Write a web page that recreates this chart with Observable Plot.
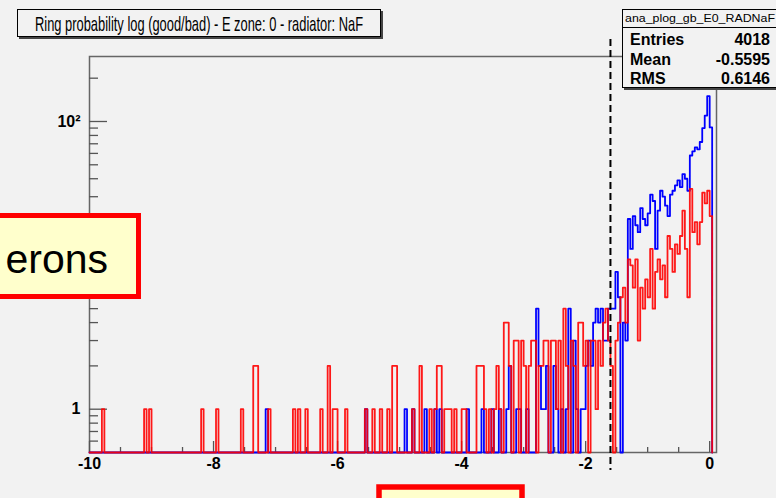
<!DOCTYPE html>
<html><head><meta charset="utf-8">
<script src="https://cdn.jsdelivr.net/npm/d3@7"></script>
<script src="https://cdn.jsdelivr.net/npm/@observablehq/plot@0.6"></script>
<style>
html,body{margin:0;padding:0;background:#f2f2f2;}
#wrap{position:relative;width:776px;height:498px;overflow:hidden;background:#f2f2f2;font-family:"Liberation Sans",Arial,sans-serif;}
#wrap svg{position:absolute;left:0;top:0;}
</style></head><body><div id="wrap"></div>
<script>
// ---- data ----
const binStart = -10;
const binWidth = 0.04;
const redCounts = [
  0,0,0,0,0,1,0,0,0,0,0,0,0,0,0,0,0,0,0,0,0,0,1,0,1,
  0,0,0,0,0,0,0,0,0,0,0,0,0,0,0,0,0,0,0,0,1,0,0,0,0,
  0,1,0,0,0,0,0,0,0,0,0,1,0,0,0,0,2,2,0,0,0,0,1,0,0,
  0,0,0,0,0,0,0,1,0,1,0,0,1,0,0,0,0,0,1,0,0,2,0,1,1,
  0,0,0,1,0,0,0,0,0,0,0,1,0,0,1,0,0,1,0,0,1,0,2,2,0,
  0,0,0,0,0,1,0,0,2,0,0,0,1,0,1,2,2,0,1,1,1,0,1,0,0,
  1,1,0,0,0,0,2,2,2,1,0,1,0,1,2,1,0,4,4,2,0,3,3,0,3,
  2,0,2,3,3,0,2,2,3,3,0,3,3,1,3,0,5,2,0,3,2,0,4,4,2,
  3,0,3,3,1,3,2,4,5,3,2,0,3,4,6,7,4,11,10,7,11,3,7,5,8,
  6,13,5,9,11,8,10,6,16,13,9,14,12,16,24,13,6,34,17,20,14,20,32,27,33,
  22
];
const blueCounts = [
  0,0,0,0,0,0,0,0,0,0,0,0,0,0,0,0,0,0,0,0,0,0,0,0,0,
  0,0,0,0,0,0,0,0,0,0,0,0,0,0,0,0,0,0,0,0,0,0,0,0,0,
  0,0,0,0,0,0,0,0,0,0,0,0,0,0,0,0,0,0,0,0,0,1,0,0,0,
  0,0,0,0,0,0,0,0,0,0,0,0,0,0,0,0,0,0,0,0,0,0,0,0,0,
  0,0,0,0,0,0,0,0,0,0,0,1,0,0,0,0,0,0,0,0,0,0,0,0,0,
  0,0,1,0,0,1,0,0,0,0,1,0,0,0,1,0,1,0,0,0,0,0,0,0,0,
  0,0,1,0,0,0,0,0,1,0,0,0,1,0,0,1,0,0,1,2,0,0,1,1,0,
  0,1,0,0,0,5,2,1,1,2,0,0,2,1,0,1,0,1,5,0,3,1,0,1,1,
  2,3,2,4,5,4,5,3,3,5,5,5,9,6,0,4,3,21,13,22,19,17,25,21,19,
  23,31,28,13,24,33,30,26,22,31,33,36,39,35,43,40,33,58,62,66,64,72,90,110,150,
  91
];
const xTickValues = [-10, -8, -6, -4, -2, 0];
const yTickValues = [1, 10, 100];
const yLabelValues = [1, 100];          // the "10" label is hidden behind the annotation box in the reference
const yLabelTexts = ["1", "10²"];
const cutValue = -1.6;
const titleText = "Ring probability log (good/bad) - E zone: 0 - radiator: NaF";
const statsName = "ana_plog_gb_E0_RADNaF";
const statsLabels = ["Entries", "Mean", "RMS"];
const statsValues = ["4018", "-0.5595", "0.6146"];
const sideBoxText = "erons";

// ---- derived ----
const yMin = 0.5, yMax = 283;
function stepPoints(counts) {
  const pts = [{x: binStart, y: yMin}];
  counts.forEach((c, i) => pts.push({x: binStart + i * binWidth, y: Math.max(c, yMin)}));
  const end = binStart + counts.length * binWidth;
  pts.push({x: end, y: Math.max(counts[counts.length - 1], yMin)});
  pts.push({x: end, y: yMin});
  return pts;
}
const bluePts = stepPoints(blueCounts);
const redPts = stepPoints(redCounts);
const xMinor = d3.range(-10, 0.001, 0.5).filter(v => !xTickValues.includes(Math.round(v * 10) / 10));
const yMinor = [0.6, 0.7, 0.8, 0.9];
for (const dec of [1, 10]) for (let k = 2; k <= 9; k++) yMinor.push(k * dec);
yMinor.push(200);

const W = 776, H = 498, mL = 89, mR = 60, mT = 56, mB = 46;
const pw = W - mL - mR, ph = H - mT - mB;
const tickCol = "#555";

const chart = Plot.plot({
  width: W, height: H,
  marginLeft: mL, marginRight: mR, marginTop: mT, marginBottom: mB,
  style: {background: "transparent", fontFamily: "Liberation Sans, Arial, sans-serif", fontSize: "16px", fontWeight: "bold", color: "#000"},
  x: {domain: [-10, 0.11], axis: null},
  y: {type: "log", domain: [yMin, yMax], axis: null},
  marks: [
    Plot.frame({stroke: "#666", strokeWidth: 1.5}),
    Plot.ruleY(yMinor, {y: d => d, insetRight: pw - 9, stroke: tickCol, strokeWidth: 1.3}),
    Plot.ruleY(yTickValues, {y: d => d, insetRight: pw - 18, stroke: tickCol, strokeWidth: 1.3}),
    Plot.ruleX(xMinor, {x: d => d, insetTop: ph - 5, stroke: tickCol, strokeWidth: 1.3}),
    Plot.ruleX(xTickValues, {x: d => d, insetTop: ph - 11, stroke: tickCol, strokeWidth: 1.3}),
    Plot.line(bluePts, {x: "x", y: "y", curve: "step-after", stroke: "#0000ff", strokeWidth: 1.8}),
    Plot.line(redPts, {x: "x", y: "y", curve: "step-after", stroke: "#ff0000", strokeWidth: 1.8, strokeOpacity: 0.9}),
    Plot.ruleX([cutValue], {x: d => d, insetTop: -17, insetBottom: -18, stroke: "#000", strokeWidth: 2, strokeDasharray: "7,4"}),
    Plot.axisX(xTickValues, {anchor: "bottom", label: null, tickSize: 0, tickPadding: 5, tickFormat: d => String(d), fontSize: 16, fontWeight: "bold"}),
    Plot.axisY(yLabelValues, {anchor: "left", label: null, tickSize: 0, tickPadding: 9, tickFormat: d => yLabelTexts[yLabelValues.indexOf(d)], fontSize: 16, fontWeight: "bold"})
  ]
});
document.getElementById("wrap").appendChild(chart);

// ---- overlay: title, stats box, annotation boxes ----
const ov = d3.select("#wrap").append("svg").attr("width", W).attr("height", H)
  .style("font-family", "Liberation Sans, Arial, sans-serif");
// title box
ov.append("rect").attr("x", 19).attr("y", 11).attr("width", 364).attr("height", 28).attr("fill", "#444");
ov.append("rect").attr("x", 17.5).attr("y", 9.5).attr("width", 363).attr("height", 27).attr("fill", "#f2f2f2").attr("stroke", "#000");
ov.append("text").attr("x", 199).attr("y", 30.5).attr("text-anchor", "middle")
  .attr("font-size", 21).attr("textLength", 328).attr("lengthAdjust", "spacingAndGlyphs").text(titleText);
// stats box
ov.append("rect").attr("x", 624).attr("y", 11).attr("width", 170).attr("height", 79).attr("fill", "#444");
ov.append("rect").attr("x", 622.5).attr("y", 9.5).attr("width", 170).attr("height", 78).attr("fill", "#f2f2f2").attr("stroke", "#000");
ov.append("line").attr("x1", 622.5).attr("x2", 780).attr("y1", 27.5).attr("y2", 27.5).attr("stroke", "#000");
ov.append("text").attr("x", 625).attr("y", 22).attr("font-size", 11).attr("textLength", 150).attr("lengthAdjust", "spacingAndGlyphs").text(statsName);
statsLabels.forEach((lab, i) => {
  const yy = 45 + i * 19.5;
  ov.append("text").attr("x", 630).attr("y", yy).attr("font-size", 16).attr("font-weight", "bold").text(lab);
  ov.append("text").attr("x", 770).attr("y", yy).attr("text-anchor", "end").attr("font-size", 16).attr("font-weight", "bold").text(statsValues[i]);
});
// side annotation box
ov.append("rect").attr("x", -10).attr("y", 215.5).attr("width", 148.5).attr("height", 81).attr("fill", "#ffffcc").attr("stroke", "#ff0000").attr("stroke-width", 5);
ov.append("text").attr("x", 108).attr("y", 273).attr("text-anchor", "end").attr("font-size", 41).text(sideBoxText);
// bottom annotation box
ov.append("rect").attr("x", 379).attr("y", 487).attr("width", 143).attr("height", 40).attr("fill", "#ffffcc").attr("stroke", "#ff0000").attr("stroke-width", 5.5);
</script>
</body></html>
